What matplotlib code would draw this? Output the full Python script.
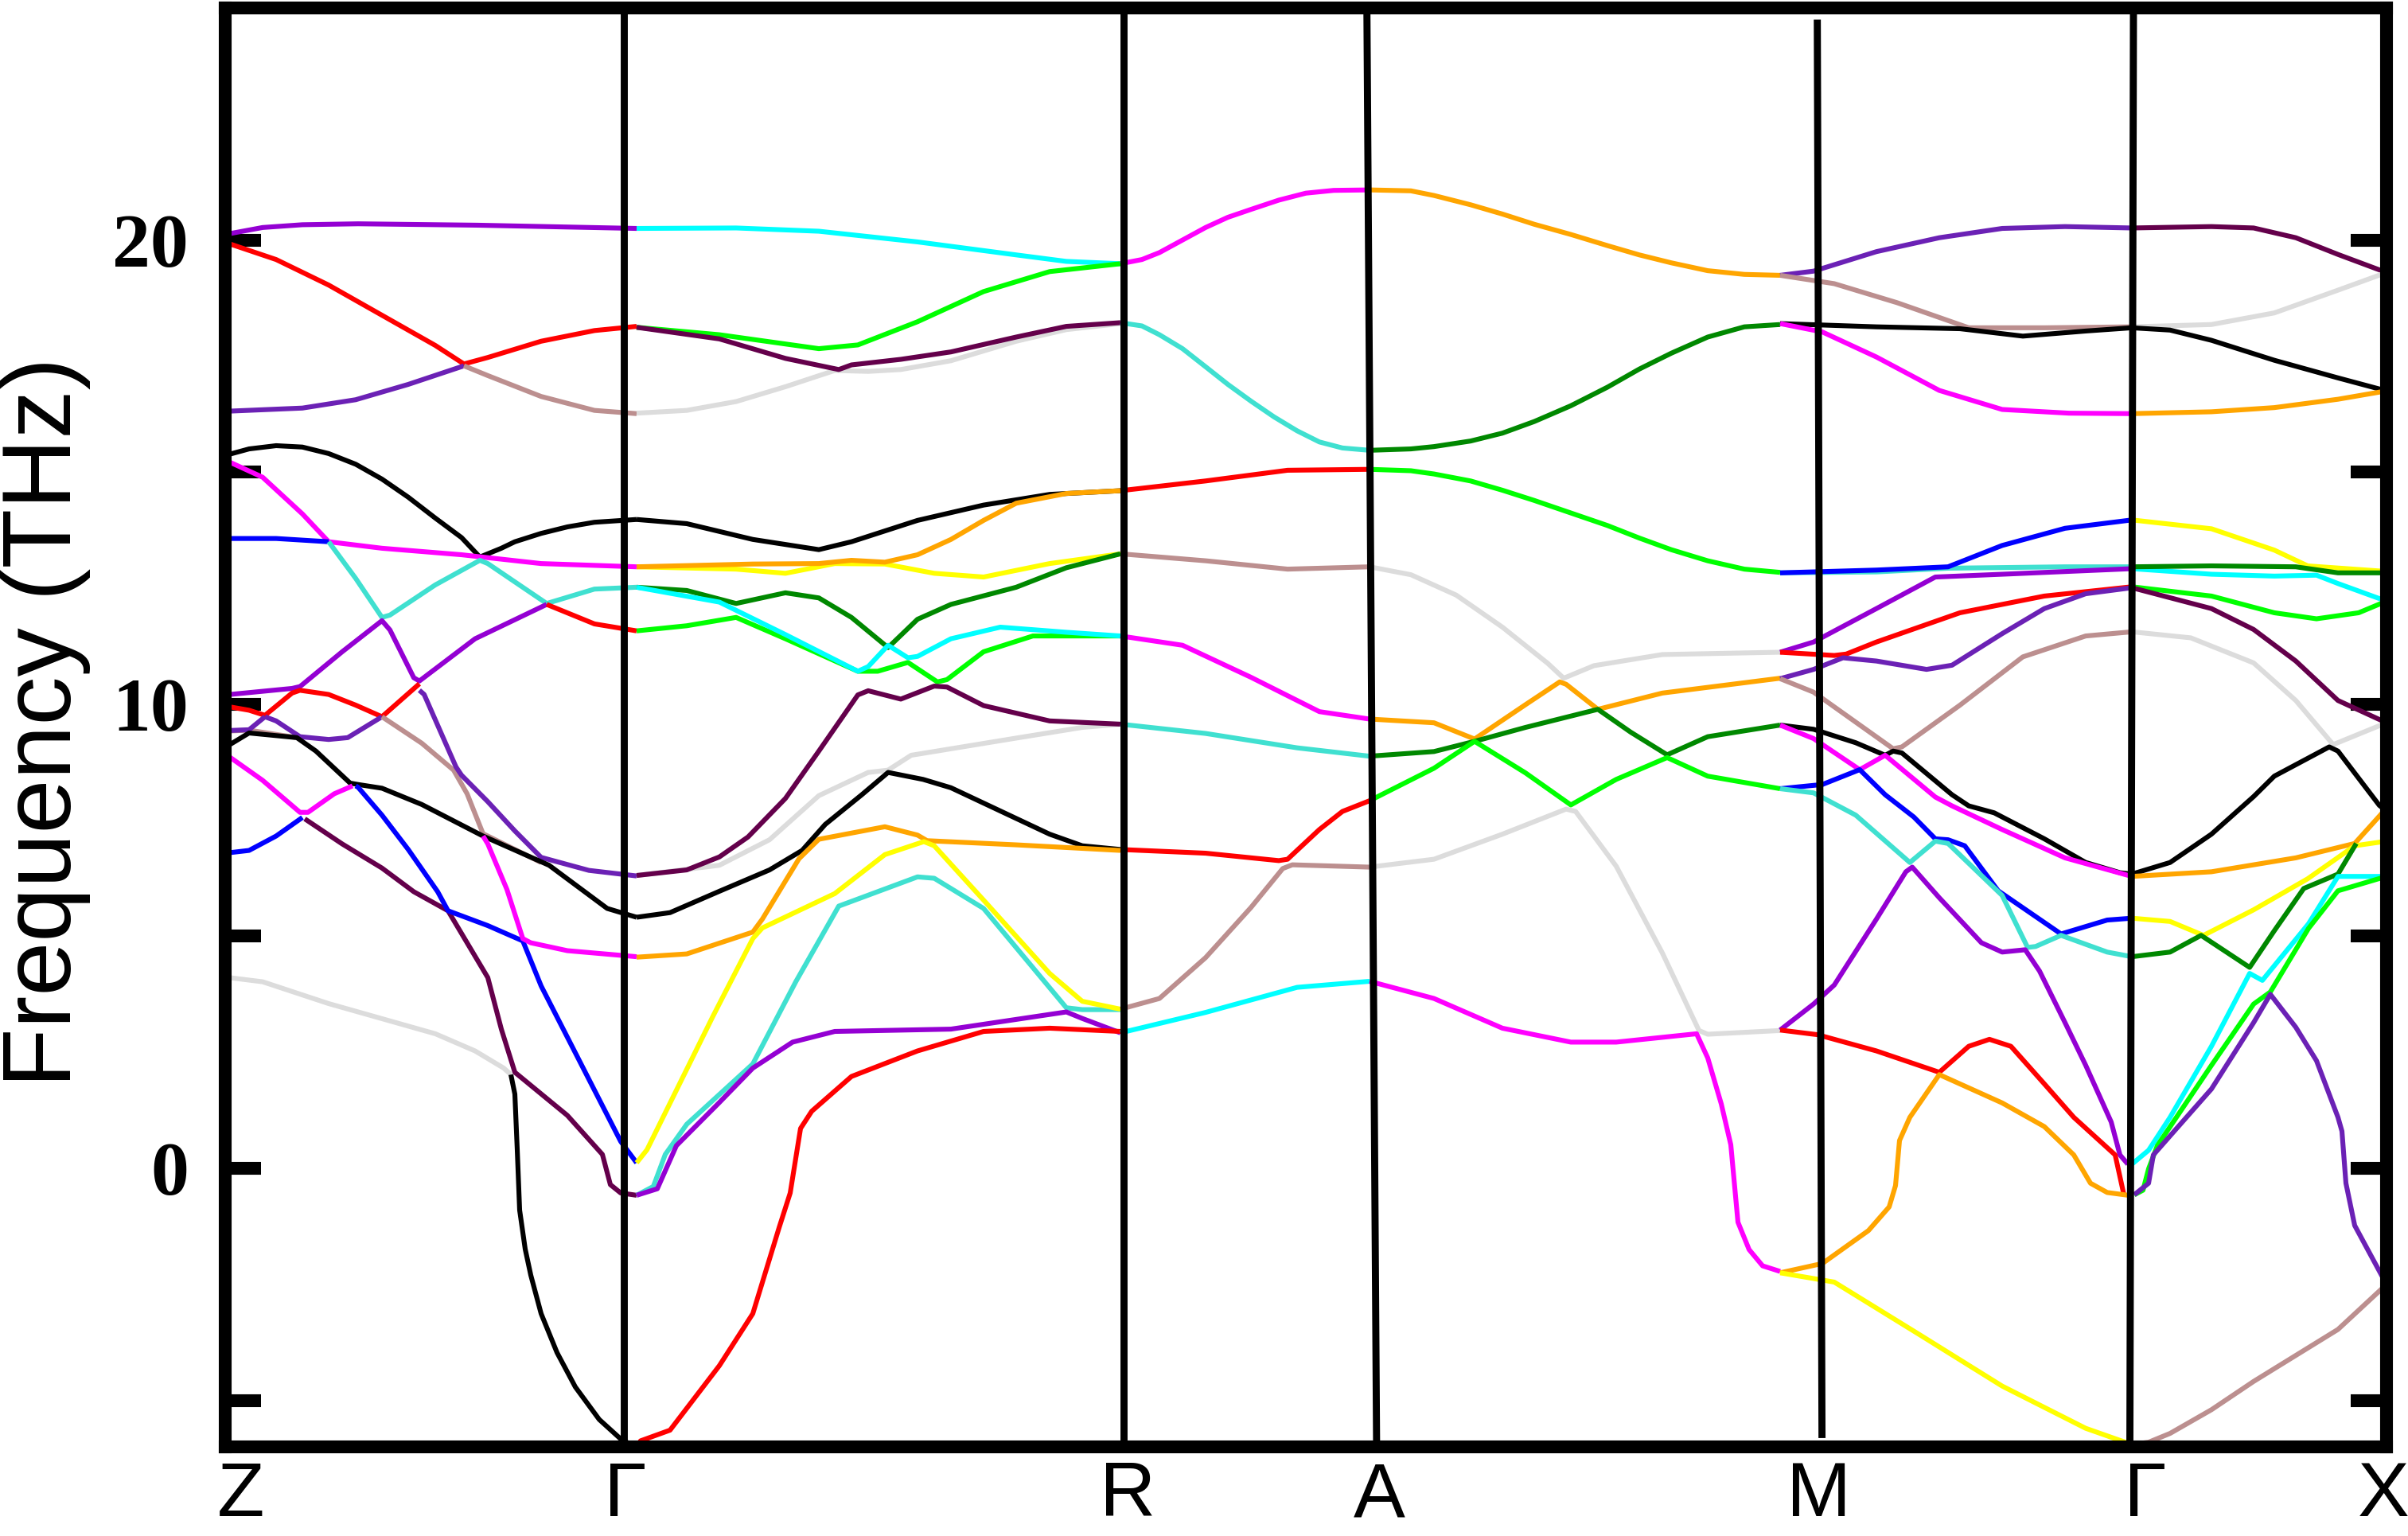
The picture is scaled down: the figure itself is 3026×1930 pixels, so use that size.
import matplotlib
matplotlib.use("Agg")
import matplotlib.pyplot as plt
import matplotlib.transforms as mtransforms

# ---------------------------------------------------------------- colours
COLORS = {
    "red": "#FF0000", "lime": "#00FF00", "dgreen": "#008800", "blue": "#0000FF",
    "cyan": "#00FFFF", "turq": "#40E0D0", "magenta": "#FF00FF", "yellow": "#FFFF00",
    "orange": "#FFA500", "black": "#000000", "dviolet": "#9400D3", "bviolet": "#6B21B5",
    "rbrown": "#BC8F8F", "gray": "#DCDCDC", "maroon": "#64004B",
}

# ---------------------------------------------------------------- k-path
kpath_end = 2.716
label_text = ["Z", "Γ", "R", "A", "M", "Γ", "X"]
label_pos = [0.020, 0.503, 1.134, 1.450, 2.003, 2.413, 2.7125]
sep_k_top = [0.501, 1.129, 1.4347, 2.0007, 2.398]
sep_k_bot = [0.501, 1.129, 1.4469, 2.0066, 2.3935]
sep_f_top = [25.0, 25.0, 25.0, 24.75, 24.89]
sep_f_bot = [-6.0, -6.0, -6.0, -5.81, -6.0]

yticks = [-5, 0, 5, 10, 15, 20]
ytick_labels = ["", "0", "", "10", "", "20"]

# ---------------------------------------------------------------- bands (k, THz)
bands_Z_G = [
    ("dviolet", [(0, 20.12), (0.047, 20.27), (0.097, 20.33), (0.167, 20.35), (0.317, 20.32), (0.517, 20.25)]),
    ("red", [(0, 19.95), (0.064, 19.58), (0.130, 19.03), (0.197, 18.38), (0.264, 17.73), (0.300, 17.33),
             (0.330, 17.47), (0.397, 17.82), (0.464, 18.05), (0.517, 18.14)]),
    ("bviolet", [(0, 16.31), (0.097, 16.38), (0.164, 16.56), (0.230, 16.89), (0.300, 17.29)]),
    ("rbrown", [(0.300, 17.29), (0.330, 17.08), (0.397, 16.63), (0.464, 16.33), (0.517, 16.26)]),
    ("black", [(0, 15.36), (0.030, 15.5), (0.064, 15.57), (0.097, 15.54), (0.130, 15.40), (0.164, 15.17),
               (0.197, 14.85), (0.230, 14.46), (0.264, 14.01), (0.297, 13.59), (0.320, 13.17), (0.347, 13.36),
               (0.364, 13.5), (0.397, 13.68), (0.430, 13.82), (0.464, 13.92), (0.517, 13.98)]),
    ("magenta", [(0, 15.26), (0.047, 14.89), (0.097, 14.1), (0.130, 13.5), (0.197, 13.36), (0.297, 13.22),
                 (0.397, 13.03), (0.517, 12.96)]),
    ("blue", [(0, 13.57), (0.064, 13.57), (0.130, 13.5)]),
    ("turq", [(0.130, 13.5), (0.164, 12.71), (0.197, 11.87), (0.207, 11.92), (0.264, 12.57), (0.320, 13.1),
              (0.330, 13.03), (0.404, 12.17), (0.464, 12.48), (0.517, 12.52)]),
    ("dviolet", [(0, 10.2), (0.030, 10.25), (0.084, 10.34), (0.094, 10.38), (0.147, 11.13), (0.197, 11.8), (0.207, 11.6),
                 (0.237, 10.57), (0.244, 10.5), (0.314, 11.41), (0.404, 12.15)]),
    ("red", [(0.404, 12.15), (0.464, 11.73), (0.517, 11.58)]),
    ("red", [(0, 9.96), (0.030, 9.87), (0.050, 9.76), (0.084, 10.24), (0.094, 10.3), (0.130, 10.21), (0.164, 9.98),
             (0.197, 9.73), (0.244, 10.44)]),
    ("rbrown", [(0, 9.42), (0.030, 9.44), (0.090, 9.28)]),
    ("bviolet", [(0, 9.43), (0.030, 9.45), (0.050, 9.73)]),
    ("bviolet", [(0.050, 9.73), (0.064, 9.64), (0.094, 9.30), (0.130, 9.24), (0.154, 9.28), (0.197, 9.73)]),
    ("rbrown", [(0.197, 9.73), (0.247, 9.16), (0.287, 8.58), (0.304, 8.07), (0.324, 7.21), (0.330, 7.16),
                (0.364, 6.87), (0.397, 6.59)]),
    ("bviolet", [(0.244, 10.3), (0.250, 10.21), (0.290, 8.65), (0.297, 8.47), (0.330, 7.9), (0.364, 7.27),
                 (0.397, 6.7), (0.457, 6.42), (0.517, 6.3)]),
    ("black", [(0, 9.07), (0.030, 9.38), (0.090, 9.28), (0.114, 8.99), (0.157, 8.3), (0.167, 8.27), (0.197, 8.19),
               (0.247, 7.84), (0.324, 7.16), (0.407, 6.53), (0.480, 5.6), (0.517, 5.41)]),
    ("magenta", [(0, 8.93), (0.047, 8.36), (0.094, 7.67), (0.104, 7.67), (0.137, 8.07), (0.160, 8.24)]),
    ("blue", [(0, 6.79), (0.030, 6.85), (0.064, 7.16), (0.097, 7.56)]),
    ("maroon", [(0.100, 7.53), (0.147, 6.99), (0.197, 6.47), (0.237, 5.96), (0.280, 5.55), (0.330, 4.11), (0.347, 3.0),
                (0.364, 2.07), (0.430, 1.14), (0.474, 0.30), (0.484, -0.35), (0.497, -0.53), (0.517, -0.58)]),
    ("blue", [(0.164, 8.24), (0.167, 8.21), (0.197, 7.61), (0.230, 6.87), (0.267, 5.96), (0.280, 5.55), (0.330, 5.23),
              (0.374, 4.9), (0.397, 3.93), (0.497, 0.58), (0.517, 0.12)]),
    ("magenta", [(0.324, 7.16), (0.330, 6.99), (0.354, 6.01), (0.374, 4.95), (0.384, 4.86), (0.430, 4.69), (0.517, 4.56)]),
    ("gray", [(0, 4.12), (0.047, 4.02), (0.130, 3.55), (0.264, 2.9), (0.314, 2.53), (0.350, 2.16), (0.359, 2.02)]),
    ("black", [(0.359, 2.02), (0.364, 1.6), (0.367, 0.4), (0.370, -0.9), (0.377, -1.74), (0.384, -2.3), (0.397, -3.13),
               (0.417, -3.97), (0.440, -4.71), (0.470, -5.41), (0.497, -5.83), (0.512, -5.97)]),
]

bands_G_R = [
    ("cyan", [(0.517, 20.25), (0.642, 20.26), (0.746, 20.19), (0.870, 19.96), (0.994, 19.68), (1.057, 19.54), (1.125, 19.49)]),
    ("lime", [(0.517, 18.12), (0.621, 17.96), (0.746, 17.66), (0.795, 17.74), (0.870, 18.24), (0.953, 18.89),
              (1.036, 19.32), (1.125, 19.49)]),
    ("gray", [(0.517, 16.27), (0.580, 16.33), (0.642, 16.52), (0.704, 16.84), (0.766, 17.19), (0.808, 17.17),
              (0.849, 17.21), (0.912, 17.4), (0.994, 17.82), (1.057, 18.07), (1.125, 18.2)]),
    ("maroon", [(0.517, 18.12), (0.621, 17.87), (0.704, 17.45), (0.771, 17.21), (0.787, 17.31), (0.849, 17.43),
                (0.912, 17.59), (0.994, 17.91), (1.057, 18.14), (1.125, 18.22)]),
    ("black", [(0.517, 13.98), (0.580, 13.89), (0.663, 13.55), (0.746, 13.33), (0.787, 13.5), (0.870, 13.96),
               (0.953, 14.29), (1.036, 14.52), (1.125, 14.6)]),
    ("yellow", [(0.517, 12.96), (0.642, 12.91), (0.704, 12.82), (0.766, 13.03), (0.829, 13.02), (0.891, 12.82),
                (0.953, 12.74), (1.036, 13.03), (1.125, 13.24)]),
    ("orange", [(0.517, 12.96), (0.663, 13.02), (0.746, 13.03), (0.787, 13.1), (0.829, 13.06), (0.870, 13.22),
                (0.912, 13.55), (0.953, 13.96), (0.994, 14.33), (1.057, 14.54), (1.125, 14.6)]),
    ("dgreen", [(0.517, 12.52), (0.580, 12.45), (0.642, 12.17), (0.704, 12.4), (0.746, 12.29), (0.787, 11.87),
                (0.833, 11.22), (0.870, 11.83), (0.912, 12.15), (0.994, 12.52), (1.057, 12.94), (1.125, 13.24)]),
    ("lime", [(0.517, 11.58), (0.580, 11.69), (0.642, 11.87), (0.704, 11.41), (0.795, 10.71), (0.820, 10.71),
              (0.858, 10.9), (0.895, 10.48), (0.907, 10.53), (0.953, 11.13), (1.015, 11.47), (1.125, 11.47)]),
    ("cyan", [(0.517, 12.52), (0.621, 12.2), (0.704, 11.5), (0.795, 10.71), (0.808, 10.81), (0.833, 11.27),
              (0.858, 11.0), (0.870, 11.03), (0.912, 11.41), (0.974, 11.66), (1.057, 11.55), (1.125, 11.47)]),
    ("gray", [(0.517, 6.31), (0.621, 6.53), (0.684, 7.08), (0.746, 8.03), (0.808, 8.53), (0.833, 8.58), (0.862, 8.9),
              (0.912, 9.04), (0.994, 9.27), (1.077, 9.5), (1.125, 9.57)]),
    ("maroon", [(0.517, 6.31), (0.580, 6.43), (0.621, 6.71), (0.657, 7.14), (0.704, 7.97), (0.746, 8.99), (0.795, 10.2),
                (0.808, 10.29), (0.849, 10.11), (0.891, 10.39), (0.907, 10.37), (0.953, 9.97), (1.036, 9.64), (1.125, 9.57)]),
    ("black", [(0.517, 5.41), (0.559, 5.51), (0.621, 5.97), (0.684, 6.43), (0.725, 6.85), (0.754, 7.41), (0.800, 8.05),
               (0.833, 8.53), (0.877, 8.38), (0.912, 8.2), (0.974, 7.7), (1.036, 7.2), (1.077, 6.95), (1.125, 6.87)]),
    ("orange", [(0.517, 4.55), (0.580, 4.62), (0.663, 5.09), (0.675, 5.37), (0.721, 6.67), (0.746, 7.09), (0.829, 7.36),
                (0.870, 7.18), (0.882, 7.06), (0.994, 6.97), (1.125, 6.85)]),
    ("turq", [(0.517, -0.58), (0.538, -0.39), (0.553, 0.3), (0.580, 0.95), (0.663, 2.25), (0.717, 4.02), (0.771, 5.65),
              (0.870, 6.28), (0.891, 6.25), (0.953, 5.6), (1.057, 3.46), (1.077, 3.42), (1.125, 3.42)]),
    ("yellow", [(0.517, 0.12), (0.530, 0.4), (0.613, 3.28), (0.663, 4.95), (0.675, 5.18), (0.766, 5.92), (0.829, 6.76),
                (0.878, 7.04), (0.891, 6.95), (0.953, 5.78), (1.036, 4.2), (1.077, 3.6), (1.125, 3.43)]),
    ("dviolet", [(0.517, -0.58), (0.543, -0.44), (0.567, 0.49), (0.621, 1.42), (0.663, 2.16), (0.713, 2.72), (0.766, 2.95),
                 (0.912, 3.0), (1.057, 3.37), (1.077, 3.23), (1.125, 2.92)]),
    ("red", [(0.517, -6.0), (0.522, -5.87), (0.559, -5.64), (0.621, -4.25), (0.663, -3.13), (0.696, -1.28), (0.710, -0.53),
             (0.723, 0.86), (0.737, 1.23), (0.787, 1.98), (0.870, 2.53), (0.953, 2.95), (1.036, 3.02), (1.125, 2.95)]),
]

bands_R_A = [
    ("magenta", [(1.125, 19.49), (1.152, 19.58), (1.174, 19.73), (1.203, 20.0), (1.232, 20.27), (1.260, 20.49),
                 (1.289, 20.66), (1.324, 20.86), (1.358, 21.01), (1.393, 21.07), (1.438, 21.08)]),
    ("turq", [(1.125, 18.22), (1.152, 18.15), (1.174, 17.96), (1.203, 17.66), (1.232, 17.27), (1.260, 16.89),
              (1.289, 16.53), (1.318, 16.19), (1.347, 15.89), (1.375, 15.65), (1.404, 15.52), (1.438, 15.47)]),
    ("red", [(1.125, 14.6), (1.232, 14.81), (1.335, 15.04), (1.438, 15.06)]),
    ("rbrown", [(1.125, 13.24), (1.232, 13.09), (1.335, 12.91), (1.438, 12.96)]),
    ("magenta", [(1.125, 11.47), (1.203, 11.27), (1.289, 10.58), (1.375, 9.84), (1.438, 9.68)]),
    ("turq", [(1.125, 9.57), (1.232, 9.37), (1.347, 9.06), (1.438, 8.88)]),
    ("red", [(1.125, 6.87), (1.232, 6.79), (1.324, 6.63), (1.335, 6.66), (1.375, 7.3), (1.404, 7.69), (1.438, 7.92)]),
    ("rbrown", [(1.125, 3.43), (1.174, 3.66), (1.232, 4.54), (1.289, 5.62), (1.329, 6.46), (1.341, 6.54), (1.438, 6.49)]),
    ("cyan", [(1.125, 2.92), (1.232, 3.36), (1.347, 3.9), (1.438, 4.03)]),
]

bands_A_M = [
    ("orange", [(1.438, 21.08), (1.490, 21.06), (1.519, 20.96), (1.565, 20.76), (1.605, 20.56), (1.645, 20.34),
                (1.691, 20.12), (1.737, 19.88), (1.777, 19.68), (1.817, 19.51), (1.863, 19.34), (1.909, 19.26), (1.954, 19.24)]),
    ("dgreen", [(1.438, 15.47), (1.490, 15.5), (1.519, 15.55), (1.565, 15.67), (1.605, 15.84), (1.645, 16.09),
                (1.691, 16.43), (1.737, 16.83), (1.777, 17.22), (1.817, 17.56), (1.863, 17.91), (1.909, 18.13), (1.954, 18.18)]),
    ("lime", [(1.438, 15.06), (1.490, 15.03), (1.519, 14.96), (1.565, 14.81), (1.605, 14.61), (1.645, 14.39),
              (1.691, 14.12), (1.737, 13.85), (1.777, 13.58), (1.817, 13.33), (1.863, 13.09), (1.909, 12.91), (1.954, 12.84)]),
    ("gray", [(1.438, 12.96), (1.490, 12.79), (1.547, 12.35), (1.605, 11.66), (1.662, 10.88), (1.682, 10.56), (1.720, 10.83),
              (1.806, 11.07), (1.954, 11.12)]),
    ("gray", [(1.438, 6.49), (1.519, 6.66), (1.605, 7.2), (1.685, 7.74), (1.697, 7.69), (1.748, 6.51), (1.806, 4.64),
              (1.852, 2.97), (1.863, 2.89), (1.954, 2.97)]),
    ("orange", [(1.438, 9.68), (1.519, 9.6), (1.570, 9.25), (1.634, 9.99), (1.677, 10.48), (1.685, 10.43), (1.725, 9.89),
                (1.806, 10.24), (1.954, 10.56)]),
    ("dgreen", [(1.438, 8.88), (1.519, 8.98), (1.570, 9.2), (1.634, 9.5), (1.725, 9.89), (1.766, 9.4), (1.812, 8.91),
                (1.863, 9.3), (1.954, 9.55)]),
    ("lime", [(1.438, 7.92), (1.519, 8.62), (1.570, 9.2), (1.634, 8.52), (1.691, 7.83), (1.748, 8.38), (1.812, 8.85),
              (1.863, 8.45), (1.954, 8.18)]),
    ("magenta", [(1.438, 4.03), (1.519, 3.66), (1.605, 3.02), (1.691, 2.72), (1.748, 2.72), (1.849, 2.9), (1.863, 2.38),
                 (1.880, 1.39), (1.892, 0.51), (1.901, -1.16), (1.915, -1.75), (1.932, -2.1), (1.954, -2.22)]),
]

bands_M_G = [
    ("bviolet", [(1.954, 19.24), (1.996, 19.33), (2.075, 19.75), (2.154, 20.05), (2.233, 20.25), (2.312, 20.29), (2.396, 20.26)]),
    ("rbrown", [(1.954, 19.24), (2.022, 19.06), (2.101, 18.65), (2.191, 18.11), (2.286, 18.11), (2.396, 18.13)]),
    ("black", [(1.954, 18.2), (2.075, 18.13), (2.180, 18.09), (2.259, 17.93), (2.338, 18.04), (2.396, 18.11)]),
    ("magenta", [(1.954, 18.2), (2.007, 18.02), (2.075, 17.48), (2.154, 16.76), (2.233, 16.35), (2.317, 16.27), (2.396, 16.26)]),
    ("turq", [(1.954, 12.83), (2.075, 12.85), (2.165, 12.93), (2.312, 12.96), (2.396, 12.96)]),
    ("blue", [(1.954, 12.83), (2.075, 12.89), (2.165, 12.96), (2.233, 13.42), (2.312, 13.79), (2.396, 13.97)]),
    ("dviolet", [(1.954, 11.12), (1.996, 11.34), (2.075, 12.06), (2.149, 12.74), (2.233, 12.8), (2.396, 12.92)]),
    ("red", [(1.954, 11.12), (2.022, 11.05), (2.037, 11.08), (2.075, 11.34), (2.180, 11.97), (2.286, 12.33), (2.396, 12.53)]),
    ("bviolet", [(1.954, 10.55), (1.996, 10.75), (2.033, 11.0), (2.075, 10.93), (2.138, 10.75), (2.170, 10.84), (2.233, 11.52),
                 (2.286, 12.06), (2.338, 12.38), (2.396, 12.51)]),
    ("rbrown", [(1.954, 10.55), (1.996, 10.26), (2.096, 9.04), (2.107, 9.08), (2.180, 9.98), (2.259, 11.02), (2.338, 11.47),
                (2.396, 11.56)]),
    ("black", [(1.954, 9.55), (1.996, 9.46), (2.049, 9.17), (2.086, 8.9), (2.096, 8.99), (2.107, 8.95), (2.170, 8.05),
               (2.191, 7.81), (2.223, 7.66), (2.286, 7.1), (2.338, 6.59), (2.381, 6.37), (2.396, 6.34)]),
    ("magenta", [(1.954, 9.55), (1.996, 9.26), (2.054, 8.59), (2.086, 8.9), (2.149, 8.0), (2.170, 7.81), (2.233, 7.3),
                 (2.312, 6.69), (2.396, 6.29)]),
    ("blue", [(1.954, 8.18), (2.007, 8.27), (2.054, 8.59), (2.086, 8.05), (2.122, 7.57), (2.149, 7.1), (2.165, 7.08),
              (2.186, 6.95), (2.228, 5.98), (2.307, 5.05), (2.365, 5.35), (2.396, 5.39)]),
    ("turq", [(1.954, 8.18), (1.996, 8.09), (2.049, 7.61), (2.117, 6.59), (2.149, 7.05), (2.165, 7.0), (2.233, 5.88),
              (2.265, 4.76), (2.275, 4.78), (2.307, 5.02), (2.365, 4.66), (2.396, 4.56)]),
    ("dviolet", [(1.954, 2.98), (1.996, 3.54), (2.022, 3.95), (2.075, 5.37), (2.112, 6.39), (2.120, 6.49), (2.154, 5.83),
                 (2.207, 4.86), (2.233, 4.66), (2.262, 4.71), (2.280, 4.25), (2.312, 3.14), (2.338, 2.22), (2.370, 1.0),
                 (2.381, 0.29), (2.391, 0.09)]),
    ("red", [(1.954, 2.98), (2.001, 2.88), (2.075, 2.53), (2.154, 2.07), (2.191, 2.63), (2.217, 2.78), (2.244, 2.63),
             (2.286, 1.82), (2.323, 1.1), (2.375, 0.29), (2.386, -0.57)]),
    ("orange", [(1.954, -2.25), (2.007, -2.05), (2.065, -1.34), (2.091, -0.83), (2.099, -0.37), (2.104, 0.6), (2.117, 1.1),
                (2.154, 2.02), (2.233, 1.41), (2.286, 0.9), (2.323, 0.29), (2.344, -0.32), (2.365, -0.52), (2.396, -0.59)]),
    ("yellow", [(1.954, -2.25), (2.022, -2.45), (2.128, -3.57), (2.233, -4.69), (2.338, -5.6), (2.396, -5.95)]),
]

bands_G_X = [
    ("maroon", [(2.396, 20.26), (2.496, 20.29), (2.549, 20.26), (2.602, 20.05), (2.655, 19.69), (2.716, 19.3)]),
    ("gray", [(2.396, 18.13), (2.496, 18.18), (2.575, 18.43), (2.655, 18.92), (2.716, 19.3)]),
    ("black", [(2.396, 18.11), (2.444, 18.06), (2.496, 17.84), (2.575, 17.41), (2.655, 17.03), (2.716, 16.75)]),
    ("orange", [(2.396, 16.26), (2.496, 16.3), (2.575, 16.39), (2.655, 16.57), (2.716, 16.75)]),
    ("yellow", [(2.396, 13.97), (2.496, 13.78), (2.575, 13.32), (2.617, 12.98), (2.716, 12.86)]),
    ("cyan", [(2.396, 12.92), (2.496, 12.8), (2.575, 12.76), (2.628, 12.78), (2.655, 12.6), (2.716, 12.22)]),
    ("dgreen", [(2.396, 12.96), (2.496, 12.98), (2.602, 12.96), (2.655, 12.83), (2.716, 12.83)]),
    ("lime", [(2.396, 12.53), (2.496, 12.33), (2.575, 11.97), (2.628, 11.84), (2.681, 11.97), (2.716, 12.22)]),
    ("gray", [(2.396, 11.56), (2.470, 11.43), (2.549, 10.89), (2.602, 10.08), (2.649, 9.13), (2.716, 9.6)]),
    ("maroon", [(2.396, 12.51), (2.496, 12.06), (2.549, 11.61), (2.602, 10.93), (2.655, 10.08), (2.716, 9.6)]),
    ("black", [(2.396, 6.34), (2.444, 6.59), (2.496, 7.2), (2.549, 8.01), (2.575, 8.45), (2.644, 9.08), (2.655, 8.99),
               (2.707, 7.82), (2.716, 7.7)]),
    ("orange", [(2.396, 6.29), (2.496, 6.39), (2.602, 6.69), (2.676, 7.0), (2.716, 7.76)]),
    ("yellow", [(2.396, 5.39), (2.444, 5.32), (2.486, 5.02), (2.549, 5.57), (2.617, 6.24), (2.676, 6.95), (2.716, 7.05)]),
    ("dgreen", [(2.396, 4.56), (2.444, 4.66), (2.483, 5.02), (2.544, 4.33), (2.575, 5.12), (2.612, 6.03), (2.655, 6.34),
                (2.678, 7.0)]),
    ("cyan", [(2.396, 0.09), (2.417, 0.39), (2.444, 1.1), (2.496, 2.63), (2.544, 4.2), (2.560, 4.05), (2.618, 5.27),
              (2.655, 6.29), (2.716, 6.29)]),
    ("lime", [(2.399, -0.57), (2.410, -0.47), (2.417, -0.01), (2.428, 0.49), (2.496, 2.22), (2.549, 3.54), (2.570, 3.8),
              (2.618, 5.17), (2.655, 5.98), (2.716, 6.29)]),
    ("bviolet", [(2.399, -0.57), (2.417, -0.32), (2.423, 0.29), (2.444, 0.7), (2.496, 1.71), (2.549, 3.14), (2.570, 3.75),
                 (2.602, 3.04), (2.628, 2.32), (2.655, 1.1), (2.660, 0.8), (2.665, -0.32), (2.676, -1.23), (2.716, -2.5)]),
    ("rbrown", [(2.396, -5.95), (2.417, -5.9), (2.444, -5.71), (2.496, -5.2), (2.549, -4.59), (2.655, -3.47), (2.716, -2.5)]),
]

segments = [bands_Z_G, bands_G_R, bands_R_A, bands_A_M, bands_M_G, bands_G_X]

# ---------------------------------------------------------------- figure
W, H, DPI = 3026, 1930, 200
fig = plt.figure(figsize=(W / DPI, H / DPI), dpi=DPI)
ax = fig.add_axes([283 / W, 1 - 1818 / H, (2999 - 283) / W, (1818 - 10) / H])

for seg in segments:
    for col, pts in seg:
        ks = [p[0] for p in pts]
        fs = [p[1] for p in pts]
        ax.plot(ks, fs, color=COLORS[col], lw=2.2, solid_joinstyle="round",
                solid_capstyle="butt", zorder=2)

for kt, kb, ft, fb in zip(sep_k_top, sep_k_bot, sep_f_top, sep_f_bot):
    ax.plot([kt, kb], [ft, fb], color="black", lw=3.2, solid_capstyle="butt", zorder=3)

ax.set_xlim(0, kpath_end)
ax.set_ylim(-6, 25)
ax.set_xticks([])
ax.set_yticks(yticks)
ax.set_yticklabels(ytick_labels, fontfamily="Liberation Serif", fontweight="bold", fontsize=34.5)
ax.tick_params(axis="y", direction="in", length=16.2, width=5.8, left=True, right=True,
               labelleft=True, labelright=False, pad=16.5)
for sp in ax.spines.values():
    sp.set_linewidth(5.8)

trans = mtransforms.blended_transform_factory(ax.transData, fig.transFigure)
for lab, x in zip(label_text, label_pos):
    ax.text(x, 25.0 / H, lab, transform=trans, ha="center", va="baseline",
            fontsize=35, family="Liberation Sans", clip_on=False)

fig.text(89 / W, 1 - 907 / H, "Frequency (THz)", rotation=90, rotation_mode="anchor",
         ha="center", va="baseline", fontsize=44, family="Liberation Sans")

fig.savefig("out.png", dpi=DPI)
